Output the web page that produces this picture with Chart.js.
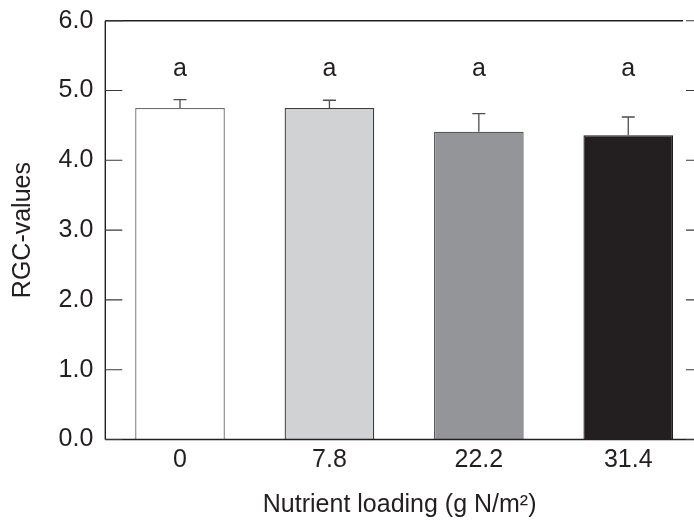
<!DOCTYPE html>
<html>
<head>
<meta charset="utf-8">
<script src="https://cdn.jsdelivr.net/npm/chart.js@4.4.1/dist/chart.umd.min.js"></script>
<style>
html,body{margin:0;padding:0;background:#fff;overflow:hidden;}
canvas{display:block;}
</style>
</head>
<body>
<canvas id="c" width="694" height="521"></canvas>
<script>
const categories = ['0', '7.8', '22.2', '31.4'];
const rgcValues = [4.75, 4.75, 4.41, 4.36];
const rgcErrors = [0.12, 0.11, 0.26, 0.26];
const groupLetters = ['a', 'a', 'a', 'a'];
const yTickValues = [0, 1, 2, 3, 4, 5, 6];

const barFills = ['#ffffff', '#d1d2d4', '#939598', '#231f20'];
const barBorders = ['#6d6e71', '#3c3c3e', '#58595b', '#231f20'];
const ink = '#231f20';
const FONT = 'Liberation Sans, Arial, Helvetica, sans-serif';
const LETTER_Y = 5.31;

const decor = {
  id: 'decor',
  afterDatasetsDraw(chart) {
    const ctx = chart.ctx;
    const ys = chart.scales.y;
    const a = chart.chartArea;
    const meta = chart.getDatasetMeta(0);
    ctx.save();
    // error bars
    ctx.strokeStyle = '#4d4e50';
    ctx.lineWidth = 1.3;
    meta.data.forEach((bar, i) => {
      const yTop = ys.getPixelForValue(rgcValues[i] + rgcErrors[i]);
      ctx.beginPath();
      ctx.moveTo(bar.x, bar.y);
      ctx.lineTo(bar.x, yTop);
      ctx.moveTo(bar.x - 6.5, yTop);
      ctx.lineTo(bar.x + 6.5, yTop);
      ctx.stroke();
    });
    // letters
    ctx.fillStyle = ink;
    ctx.font = '25px ' + FONT;
    ctx.textAlign = 'center';
    ctx.textBaseline = 'middle';
    meta.data.forEach((bar, i) => {
      ctx.fillText(groupLetters[i], bar.x, ys.getPixelForValue(LETTER_Y));
    });
    // axes
    ctx.strokeStyle = ink;
    ctx.lineWidth = 1.4;
    ctx.beginPath();
    ctx.moveTo(a.left, a.top);
    ctx.lineTo(a.left, a.bottom);
    ctx.moveTo(a.left, a.top);
    ctx.lineTo(683, a.top);
    ctx.moveTo(a.left, a.bottom);
    ctx.lineTo(chart.width, a.bottom);
    ctx.stroke();
    // inward ticks
    ctx.lineWidth = 1.1;
    ctx.strokeStyle = '#3a3a3c';
    yTickValues.forEach(v => {
      const py = ys.getPixelForValue(v);
      ctx.beginPath();
      ctx.moveTo(a.left, py);
      ctx.lineTo(a.left + 17, py);
      ctx.moveTo(686, py);
      ctx.lineTo(chart.width, py);
      ctx.stroke();
    });
    ctx.restore();
  }
};

new Chart(document.getElementById('c'), {
  type: 'bar',
  data: {
    datasets: [{
      data: rgcValues.map((v, i) => ({ x: i, y: v })),
      backgroundColor: barFills,
      borderColor: barBorders,
      borderWidth: 1.3,
      barPercentage: 0.6,
      categoryPercentage: 1.0
    }]
  },
  options: {
    responsive: false,
    animation: false,
    devicePixelRatio: 1,
    layout: { padding: { top: 20.7, right: 0, left: 0, bottom: 0 } },
    plugins: { legend: { display: false }, tooltip: { enabled: false } },
    scales: {
      x: {
        type: 'linear',
        min: -0.5,
        max: 3.44,
        offset: false,
        grid: { display: false, drawTicks: false },
        border: { display: false },
        afterBuildTicks(scale) { scale.ticks = categories.map((c, i) => ({ value: i })); },
        afterFit(scale) { scale.height = 81.5; scale.paddingLeft = 0; scale.paddingRight = 0; },
        ticks: {
          callback: (v) => categories[v],
          color: ink,
          font: { family: FONT, size: 25 },
          padding: 6,
          maxRotation: 0,
          autoSkip: false
        },
        title: {
          display: true,
          text: 'Nutrient loading (g N/m²)',
          color: ink,
          font: { family: FONT, size: 25 },
          padding: { top: 0, bottom: 0.5 }
        }
      },
      y: {
        min: 0,
        max: 6,
        grid: { display: false, drawTicks: false },
        border: { display: false },
        afterBuildTicks(scale) { scale.ticks = yTickValues.map(v => ({ value: v })); },
        afterFit(scale) { scale.width = 105.3; scale.paddingTop = 0; scale.paddingBottom = 0; },
        ticks: {
          callback: (v) => v.toFixed(1),
          color: ink,
          font: { family: FONT, size: 25 },
          padding: 12
        },
        title: {
          display: true,
          text: 'RGC-values',
          color: ink,
          font: { family: FONT, size: 25 },
          padding: { top: 8, bottom: 0 }
        }
      }
    }
  },
  plugins: [decor]
});
</script>
</body>
</html>
